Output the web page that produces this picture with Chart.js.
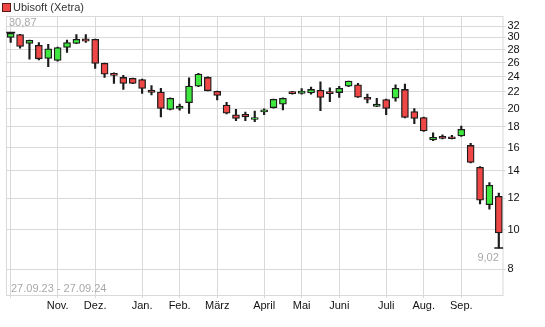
<!DOCTYPE html>
<html>
<head>
<meta charset="utf-8">
<script src="https://cdn.jsdelivr.net/npm/chart.js@4.4.1/dist/chart.umd.min.js"></script>
<style>
  html, body { margin: 0; padding: 0; background: #fff; }
</style>
</head>
<body>
<canvas id="chart" width="545" height="327"></canvas>
<script>
// Weekly candles, 27.09.23 - 27.09.24 (one entry per week)
const opens  = [30.0, 30.5, 29.0, 28.67, 26.6, 26.3, 28.33, 29.0, 29.75, 29.67,
                25.87, 24.45, 23.88, 23.75, 23.6, 22.2, 21.96, 19.9, 20.0, 20.67,
                22.72, 23.88, 22.05, 20.4, 19.3, 19.35, 18.8, 19.6, 20.1, 20.5,
                22.03, 21.8, 21.85, 22.2, 22.03, 21.9, 22.7, 22.9, 21.3, 20.25,
                21.05, 21.2, 22.3, 19.65, 19.0, 16.72, 17.05, 17.02, 17.1, 16.2,
                14.3, 11.55, 12.12];
const highs  = [30.87, 30.55, 29.55, 29.15, 28.85, 28.4, 29.55, 30.5, 30.5, 29.7,
                25.9, 24.5, 24.15, 23.8, 23.65, 22.8, 22.45, 21.25, 20.5, 23.83,
                24.45, 23.95, 22.1, 20.7, 19.9, 19.6, 19.7, 19.95, 21.1, 21.25,
                22.05, 22.4, 22.6, 23.3, 22.5, 22.7, 23.4, 23.1, 21.7, 21.2,
                21.1, 22.9, 23.0, 20.0, 19.05, 17.4, 17.2, 17.15, 18.1, 16.4,
                14.35, 13.1, 12.35];
const lows   = [29.15, 28.2, 26.5, 26.4, 25.4, 26.2, 27.55, 28.95, 29.15, 25.15,
                23.88, 23.08, 22.3, 23.05, 21.8, 21.6, 19.07, 19.85, 19.8, 19.45,
                22.65, 22.1, 21.0, 19.4, 18.65, 18.65, 18.55, 19.3, 20.05, 19.85,
                21.7, 21.7, 21.7, 19.75, 20.8, 21.3, 22.65, 21.3, 20.65, 20.2,
                19.3, 20.85, 18.95, 18.35, 17.55, 16.65, 16.8, 16.8, 17.05, 14.65,
                11.6, 11.26, 9.02];
const closes = [30.7, 28.5, 29.5, 26.55, 28.1, 28.33, 29.15, 29.67, 29.35, 25.87,
                24.33, 24.15, 23.08, 23.08, 22.43, 21.93, 20.0, 21.2, 20.28, 22.72,
                24.33, 22.12, 21.55, 19.47, 18.9, 19.05, 19.0, 19.85, 21.07, 21.2,
                21.77, 22.1, 22.3, 21.3, 21.77, 22.45, 23.4, 21.33, 21.05, 20.5,
                20.0, 22.45, 19.0, 18.9, 17.6, 16.97, 16.85, 16.83, 17.75, 14.7,
                11.85, 12.9, 9.83];

// Month gridlines sit on the first week of each month
const monthIdx    = [0, 5, 9, 14, 18, 22, 27, 31, 35, 40, 44, 48];
const monthLabels = ['', 'Nov.', 'Dez.', 'Jan.', 'Feb.', 'März', 'April', 'Mai', 'Juni', 'Juli', 'Aug.', 'Sep.'];
const yTicks = [8, 10, 12, 14, 16, 18, 20, 22, 24, 26, 28, 30, 32];

const title = 'Ubisoft (Xetra)';
const rangeText = '27.09.23 - 27.09.24';

const UP = '#3fe83f';
const DOWN = '#ef4646';
const GRID = '#d9d9d9';
const FONT = '"Liberation Sans", Arial, sans-serif';

Chart.defaults.font.family = FONT;

const weeks = opens.map((o, i) => i);
const isUp = weeks.map(i => closes[i] >= opens[i]);

const maxHigh = Math.max(...highs);
const minLow = Math.min(...lows);
const maxIdx = highs.indexOf(maxHigh);
const minIdx = lows.indexOf(minLow);
const fmt = v => v.toFixed(2).replace('.', ',');

// frame, legend and grey notes
const extras = {
    id: 'extras',
    beforeDatasetsDraw(chart) {
        const { ctx, chartArea: a } = chart;
        ctx.save();
        ctx.strokeStyle = GRID;
        ctx.lineWidth = 1;
        ctx.strokeRect(a.left + 0.5, a.top + 0.5, a.right - a.left - 1, a.bottom - a.top);
        ctx.restore();
    },
    afterDraw(chart) {
        const { ctx, chartArea: a, scales } = chart;
        ctx.save();
        // legend
        ctx.fillStyle = DOWN;
        ctx.fillRect(2, 3, 8, 8);
        ctx.strokeStyle = '#5a1a1a';
        ctx.lineWidth = 1;
        ctx.strokeRect(2.5, 3.5, 8, 8);
        ctx.fillStyle = '#333';
        ctx.font = '11px ' + FONT;
        ctx.textBaseline = 'middle';
        ctx.textAlign = 'left';
        ctx.fillText(title, 13, 7.5);

        // notes
        ctx.fillStyle = '#a8a8a8';
        ctx.fillText(fmt(maxHigh), a.left + 3, a.top + 7);
        ctx.fillText(rangeText, a.left + 5, a.bottom - 6);
        ctx.textAlign = 'right';
        ctx.fillText(fmt(minLow), scales.x.getPixelForValue(minIdx), scales.y.getPixelForValue(minLow) + 10);
        ctx.restore();
    }
};

new Chart(document.getElementById('chart'), {
    type: 'bar',
    data: {
        datasets: [
            {
                label: title,
                data: weeks.map(i => ({ x: i, y: [opens[i], closes[i]] })),
                backgroundColor: weeks.map(i => isUp[i] ? UP : DOWN),
                borderColor: '#1c1c1c',
                borderWidth: 1.3,
                borderSkipped: false,
                barThickness: 7,
                grouped: false,
                order: 1
            },
            {
                label: 'range',
                data: weeks.map(i => ({ x: i, y: [lows[i], highs[i]] })),
                backgroundColor: '#1c1c1c',
                borderWidth: 0,
                barThickness: 1.5,
                grouped: false,
                order: 2
            },
            {
                type: 'scatter',
                label: 'extremes',
                data: [{ x: maxIdx, y: maxHigh }, { x: minIdx, y: minLow }],
                pointStyle: 'line',
                radius: 4.5,
                borderColor: '#1c1c1c',
                borderWidth: 1.5,
                order: 3
            }
        ]
    },
    options: {
        responsive: false,
        animation: false,
        devicePixelRatio: 1,
        layout: { padding: { top: 16, left: 2, right: 0, bottom: 0 } },
        plugins: {
            legend: { display: false },
            tooltip: { enabled: false }
        },
        scales: {
            x: {
                type: 'linear',
                min: -0.5,
                max: 52.5,
                offset: false,
                afterBuildTicks: scale => { scale.ticks = monthIdx.map(v => ({ value: v })); },
                afterFit: scale => { scale.height = 32; },
                grid: { color: GRID, tickLength: 3, offset: false },
                border: { display: false },
                ticks: {
                    autoSkip: false,
                    maxRotation: 0,
                    padding: 1,
                    color: '#111',
                    font: { size: 11 },
                    callback: (v, i) => monthLabels[i]
                }
            },
            y: {
                type: 'logarithmic',
                position: 'right',
                min: 6.9,
                max: 33.9,
                afterBuildTicks: scale => { scale.ticks = yTicks.map(v => ({ value: v })); },
                afterFit: scale => { scale.width = 41.5; },
                grid: { color: GRID, tickLength: 2 },
                border: { display: false },
                ticks: {
                    autoSkip: false,
                    padding: 2,
                    color: '#111',
                    font: { size: 11 },
                    callback: v => String(v)
                }
            }
        }
    },
    plugins: [extras]
});
</script>
</body>
</html>
